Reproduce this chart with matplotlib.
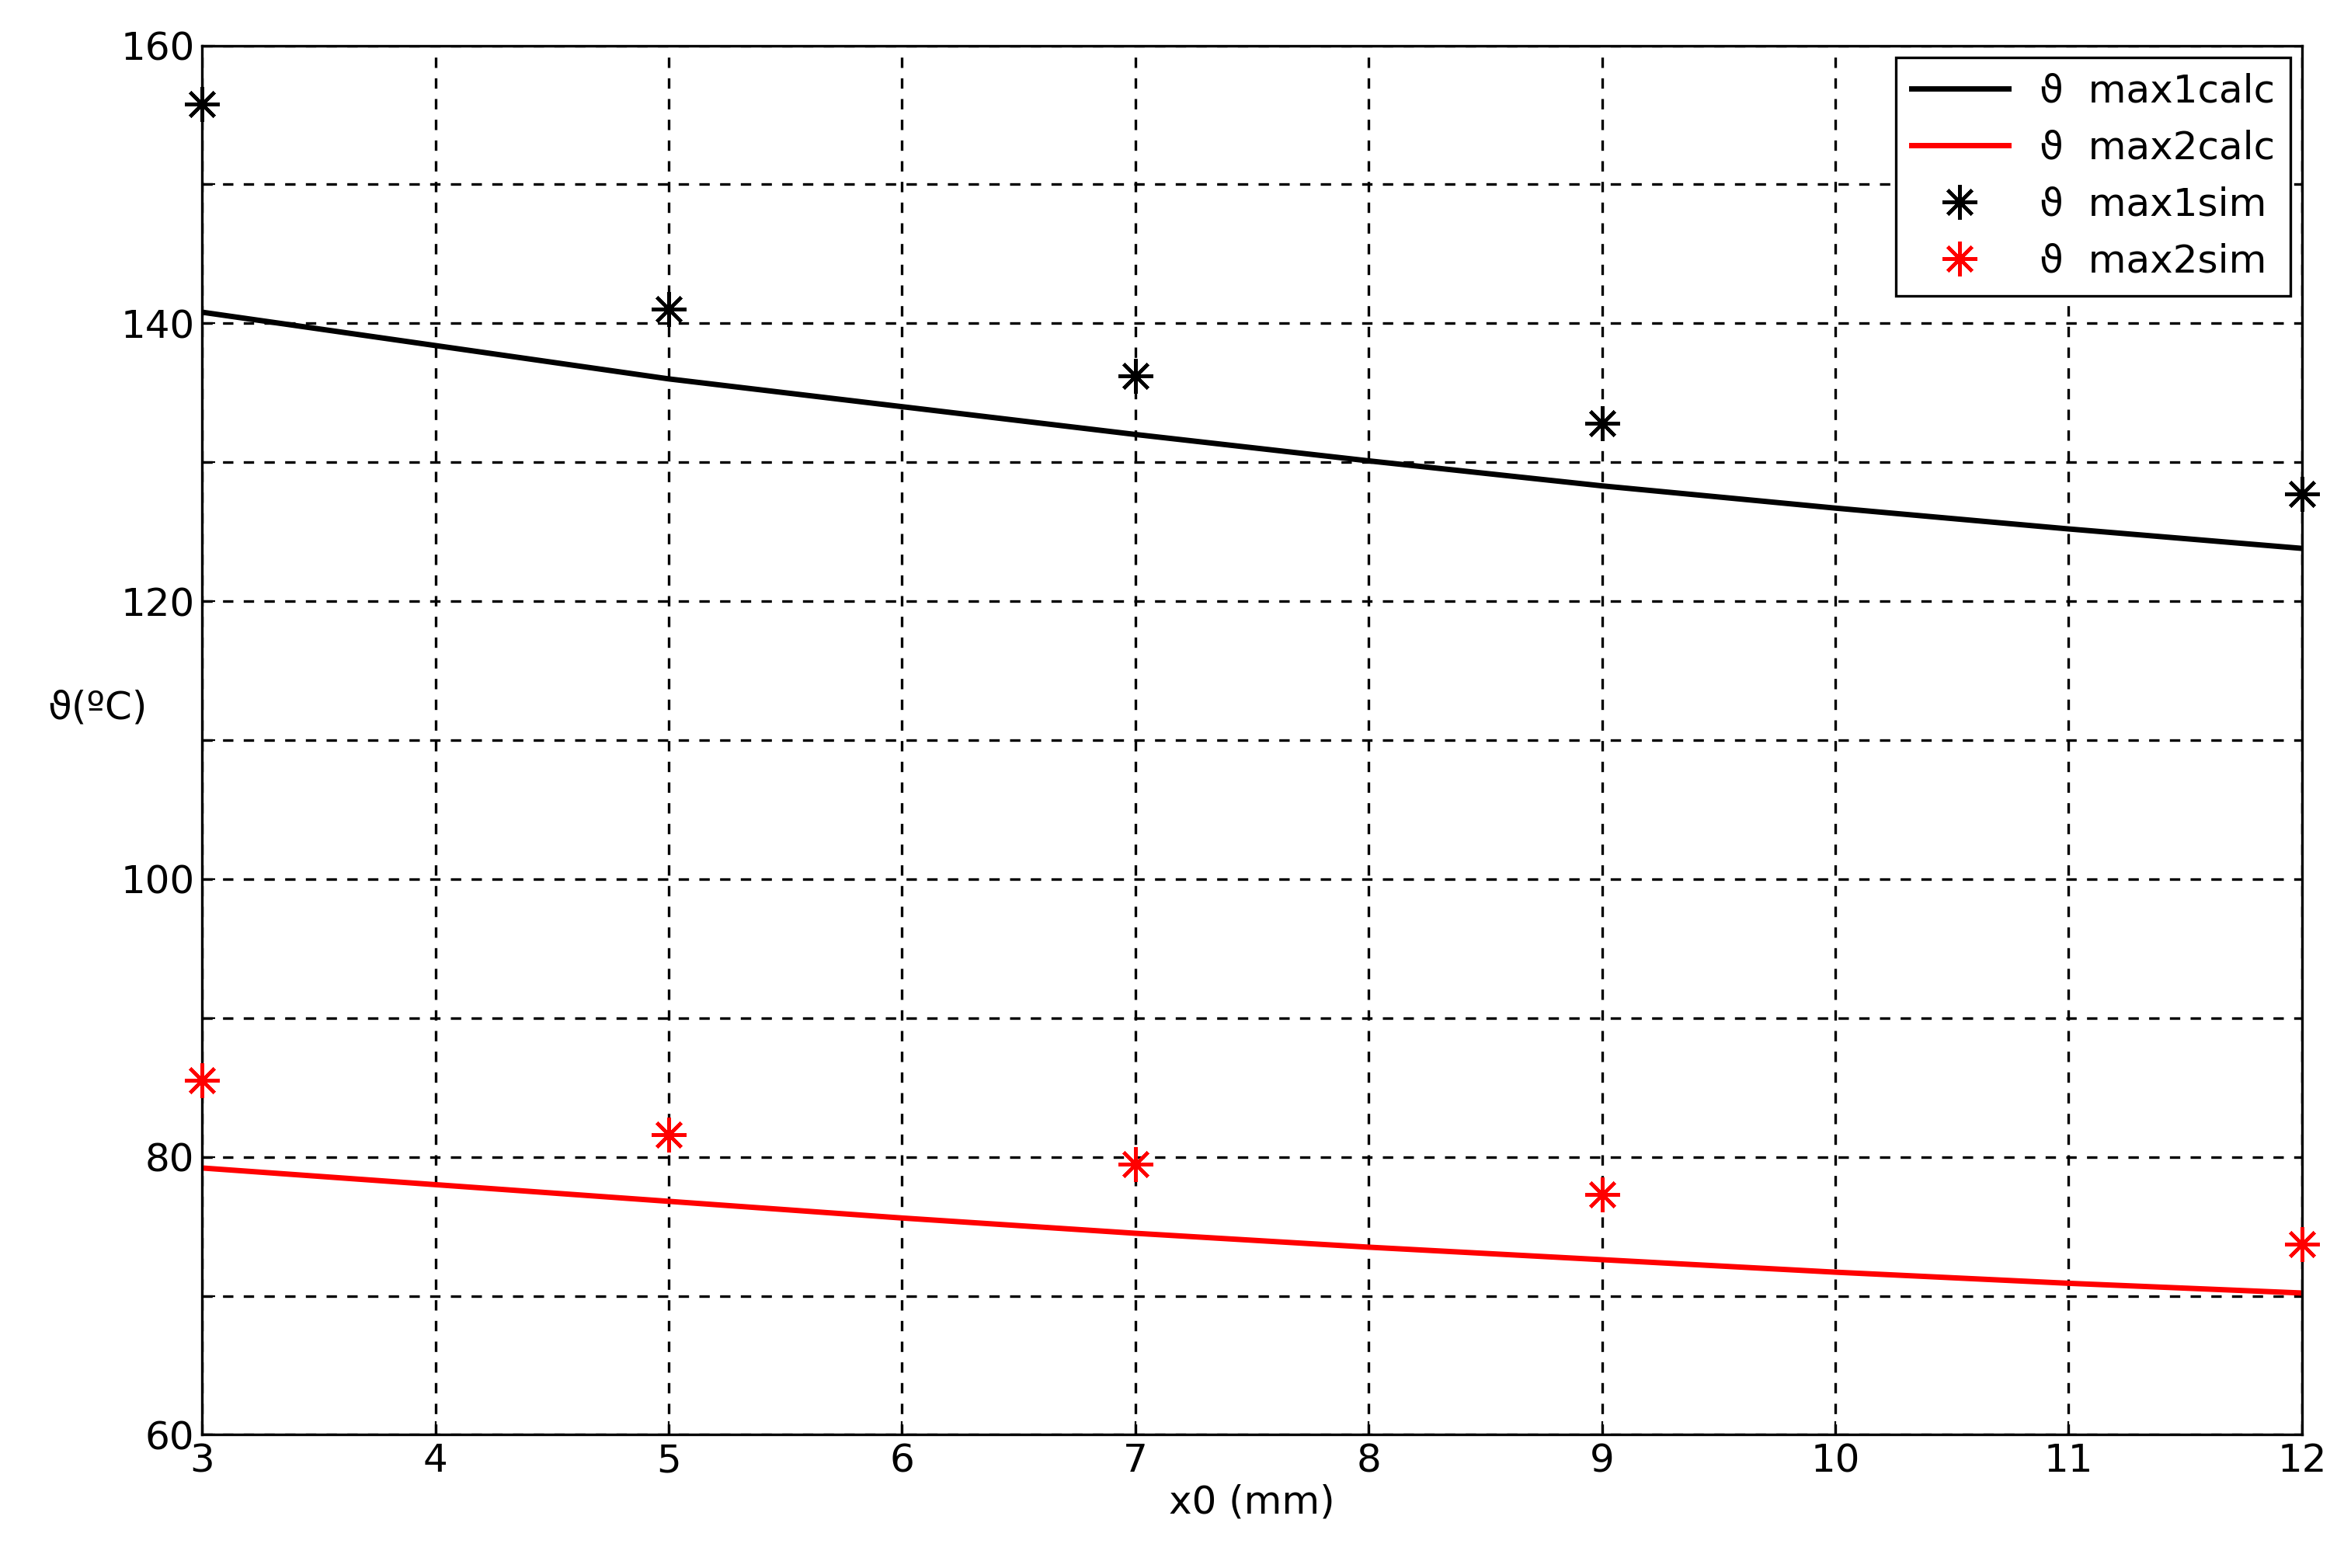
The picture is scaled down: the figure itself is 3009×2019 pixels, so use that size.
import numpy as np
import matplotlib.pyplot as plt

# calculated curves
x_calc = [3, 4, 5, 6, 7, 8, 9, 10, 11, 12]
max1calc = [140.8, 138.4, 136.0, 134.0, 132.0, 130.1, 128.3, 126.7, 125.2, 123.8]
max2calc = [79.2, 78.0, 76.8, 75.6, 74.5, 73.5, 72.6, 71.7, 70.9, 70.2]

# simulated points
x_sim = [3, 5, 7, 9, 12]
max1sim = [155.8, 141.0, 136.2, 132.8, 127.7]
max2sim = [85.5, 81.6, 79.5, 77.3, 73.7]

plt.rcParams['font.family'] = ['DejaVu Sans']
fig = plt.figure(figsize=(15.045, 10.095), dpi=200)
ax = fig.add_axes([0.0865, 0.085, 0.8985, 0.886])

ax.plot(x_calc, max1calc, color='black', lw=2.5, label='ϑ  max1calc')
ax.plot(x_calc, max2calc, color='red', lw=2.5, label='ϑ  max2calc')
ax.plot(x_sim, max1sim, ls='none', marker=(8, 2, 0), color='black', ms=16, mew=1.6,
        label='ϑ  max1sim', clip_on=False, zorder=5)
ax.plot(x_sim, max2sim, ls='none', marker=(8, 2, 0), color='red', ms=16, mew=1.6,
        label='ϑ  max2sim', clip_on=False, zorder=5)

ax.set_xlim(3, 12)
ax.set_ylim(60, 160)
ax.set_xticks(range(3, 13))
yt = np.arange(60, 161, 10)
ax.set_yticks(yt)
ax.set_yticklabels([str(v) if v % 20 == 0 else '' for v in yt])
ax.grid(True, color='black', linestyle='--', linewidth=1.2, dashes=(4, 4))
ax.tick_params(labelsize=18, direction='in', length=6)
for s in ax.spines.values():
    s.set_linewidth(1.2)

ax.set_xlabel('x0 (mm)', fontsize=18, labelpad=2)
ax.set_ylabel('ϑ(ºC)', fontsize=18, rotation=0, labelpad=2)
ax.yaxis.set_label_coords(-0.05, 0.51)

leg = ax.legend(loc='upper right', fontsize=18, fancybox=False, framealpha=1,
                edgecolor='black', borderaxespad=0.3, handlelength=2.5)
leg.get_frame().set_linewidth(1.2)

fig.savefig('out.png', dpi=200, facecolor='white')
